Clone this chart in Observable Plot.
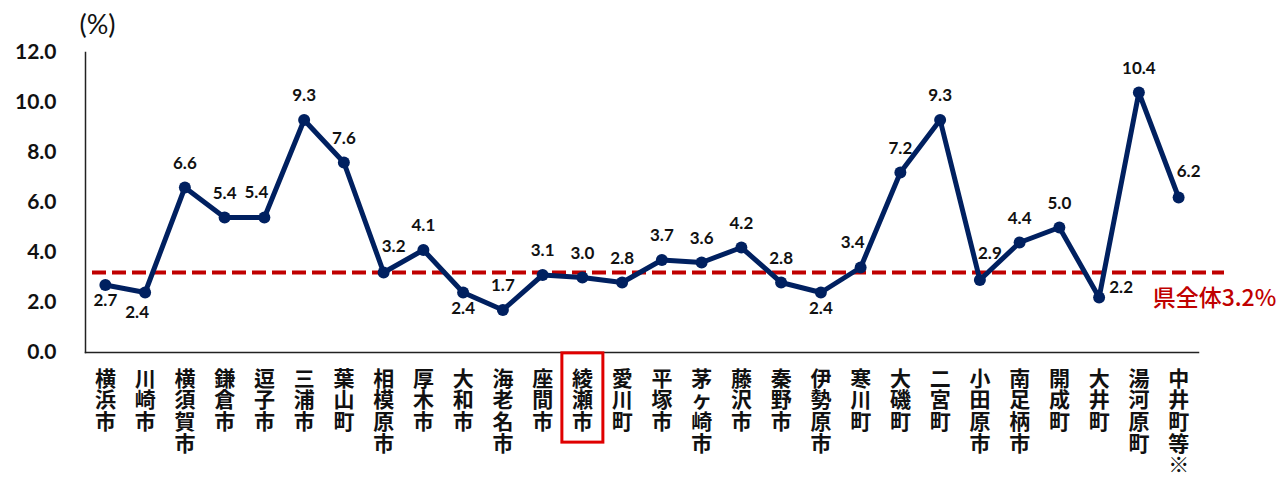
<!DOCTYPE html>
<html><head><meta charset="utf-8">
<script src="https://cdn.jsdelivr.net/npm/d3@7"></script>
<script src="https://cdn.jsdelivr.net/npm/@observablehq/plot@0.6"></script>
<style>
body{margin:0;background:#fff}
#chart svg{display:block}
</style>
</head><body><div id="chart"></div>
<script>
const categories = ["横浜市","川崎市","横須賀市","鎌倉市","逗子市","三浦市","葉山町","相模原市","厚木市","大和市","海老名市","座間市","綾瀬市","愛川町","平塚市","茅ヶ崎市","藤沢市","秦野市","伊勢原市","寒川町","大磯町","二宮町","小田原市","南足柄市","開成町","大井町","湯河原町","中井町等※"];
const values = [2.7,2.4,6.6,5.4,5.4,9.3,7.6,3.2,4.1,2.4,1.7,3.1,3.0,2.8,3.7,3.6,4.2,2.8,2.4,3.4,7.2,9.3,2.9,4.4,5.0,2.2,10.4,6.2];
const yTicks = [0,2,4,6,8,10,12];
const prefAverage = 3.2;
const prefLabel = "県全体3.2%";
const unitLabel = "(%)";
const highlighted = "綾瀬市";
const labelsBelow = ["横浜市","大和市","伊勢原市"];
const labelsBelowLeft = ["川崎市"];
const labelsAboveRight = ["相模原市","小田原市","中井町等※"];
const labelsAboveLeft = ["逗子市","寒川町"];
const labelsRight = ["大井町"];

const data = categories.map((c, i) => ({category: c, value: values[i]}));
const placementOf = c =>
  labelsBelow.includes(c) ? "below" :
  labelsBelowLeft.includes(c) ? "belowLeft" :
  labelsAboveRight.includes(c) ? "aboveRight" :
  labelsAboveLeft.includes(c) ? "aboveLeft" :
  labelsRight.includes(c) ? "right" : "above";
const offsets = {
  above: [0, -24], below: [0, 16], belowLeft: [-8, 20],
  aboveRight: [10, -26], aboveLeft: [-8, -25], right: [22, -10]
};
const NAVY = "#002060", RED = "#C00000";
const latin = "Lato, 'Noto Sans CJK JP', sans-serif";
const cjk = "'Noto Sans CJK JP', sans-serif";

const labelMarks = Object.entries(offsets).map(([p, [dx, dy]]) =>
  Plot.text(data.filter(d => placementOf(d.category) === p), {
    x: "category", y: "value", text: d => d.value.toFixed(1),
    dx, dy, fontSize: 17, fontWeight: "bold", fill: "#111", fontFamily: latin
  })
);

const chart = Plot.plot({
  width: 1281, height: 479,
  marginLeft: 85, marginRight: 83, marginTop: 52, marginBottom: 127,
  style: {fontFamily: latin, background: "#fff", overflow: "visible"},
  x: {type: "band", domain: categories, padding: 0, round: false, axis: null},
  y: {domain: [0, 12], axis: null},
  marks: [
    Plot.ruleY([prefAverage], {stroke: RED, strokeWidth: 4, strokeDasharray: "14,6", insetLeft: 7, insetRight: -26}),
    Plot.frame({anchor: "left", stroke: "#222", strokeWidth: 1.5}),
    Plot.frame({anchor: "bottom", stroke: "#222", strokeWidth: 1.5}),
    Plot.axisY({ticks: yTicks, tickFormat: d => d.toFixed(1), tickSize: 0, tickPadding: 29, fontSize: 21, fontWeight: "bold", fill: "#111", label: null}),
    Plot.axisX({tickSize: 0, tickPadding: 18, fontSize: 21, lineHeight: 1.03, fontFamily: cjk, fontWeight: "bold", fill: "#111", label: null, tickFormat: d => [...d].join("\n")}),
    Plot.lineY(data, {x: "category", y: "value", stroke: NAVY, strokeWidth: 5, strokeLinejoin: "round"}),
    Plot.dot(data, {x: "category", y: "value", r: 6, fill: NAVY}),
    ...labelMarks,
    Plot.text([prefAverage], {x: () => categories[categories.length - 1], y: d => d, text: () => prefLabel, textAnchor: "start", dx: -26, dy: 26, fill: RED, fontSize: 23, fontWeight: 500, fontFamily: cjk}),
    Plot.text([unitLabel], {frameAnchor: "top-left", textAnchor: "middle", lineAnchor: "middle", dx: 12, dy: -27, fontSize: 27, fill: "#111"})
  ]
});
document.getElementById("chart").append(chart);

// red box around the highlighted category label
chart.querySelectorAll('g[aria-label="x-axis tick label"] text').forEach(t => {
  if (t.textContent === highlighted) {
    const b = t.getBBox();
    const r = document.createElementNS("http://www.w3.org/2000/svg", "rect");
    r.setAttribute("x", b.x - 10);
    r.setAttribute("y", b.y - 9);
    r.setAttribute("width", b.width + 20);
    r.setAttribute("height", b.height + 16);
    r.setAttribute("fill", "none");
    r.setAttribute("stroke", "#E00000");
    r.setAttribute("stroke-width", 3);
    const tr = t.getAttribute("transform");
    if (tr) r.setAttribute("transform", tr);
    t.parentNode.append(r);
  }
});
</script>
</body></html>
